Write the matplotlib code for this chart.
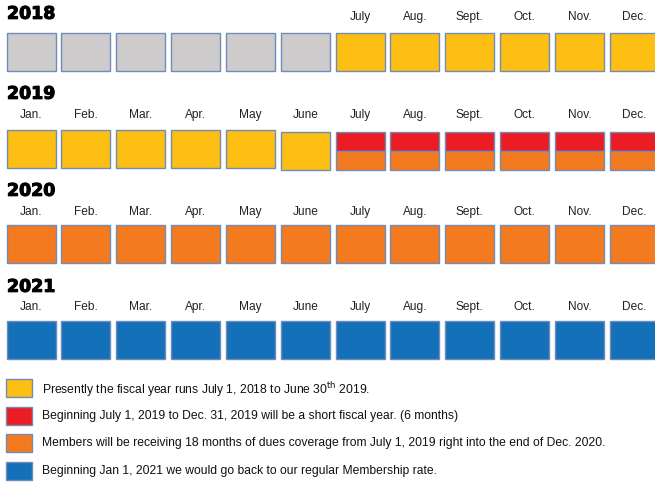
import matplotlib
matplotlib.use("Agg")
import matplotlib.pyplot as plt
import matplotlib.patheffects as pe

# ---- data ----
years = ["2018", "2019", "2020", "2021"]
months = ["Jan.", "Feb.", "Mar.", "Apr.", "May", "June",
          "July", "Aug.", "Sept.", "Oct.", "Nov.", "Dec."]
# which month labels are shown per year
labels_shown = [
    [False] * 6 + [True] * 6,
    [True] * 12,
    [True] * 12,
    [True] * 12,
]
# cell categories (top part, bottom part); None bottom = single colour
cells_top = [
    ["gray"] * 6 + ["yellow"] * 6,
    ["yellow"] * 6 + ["red"] * 6,
    ["orange"] * 12,
    ["blue"] * 12,
]
cells_bottom = [
    [None] * 12,
    [None] * 6 + ["orange"] * 6,
    [None] * 12,
    [None] * 12,
]
legend_cats = ["yellow", "red", "orange", "blue"]
legend_texts = [
    r"Presently the fiscal year runs July 1, 2018 to June 30$^{\mathrm{th}}$ 2019.",
    "Beginning July 1, 2019 to Dec. 31, 2019 will be a short fiscal year. (6 months)",
    "Members will be receiving 18 months of dues coverage from July 1, 2019 right into the end of Dec. 2020.",
    "Beginning Jan 1, 2021 we would go back to our regular Membership rate.",
]

# ---- style ----
colors = {"gray": "#CDCBCC", "yellow": "#FDBF13", "red": "#EC1C24",
          "orange": "#F47A20", "blue": "#1370B9"}
edge = "#6F8DB8"

W, H = 655, 483
fig = plt.figure(figsize=(W / 100, H / 100), dpi=100)
ax = fig.add_axes([0, 0, 1, 1])
ax.set_xlim(0, W)
ax.set_ylim(H, 0)
ax.axis("off")

year_y = [13.8, 93.8, 190.8, 286.8]
month_base = [20.2, 118.2, 215.2, 310.2]
box_top = [33, 130, 225, 321]
box_h = 38
x0, step, bw = 6.5, 54.85, 49
font = ["Liberation Sans", "DejaVu Sans"]

for r, yr in enumerate(years):
    ax.text(7, year_y[r], yr, fontsize=12.5, fontweight="bold",
            family="DejaVu Sans", va="center", ha="left", color="black",
            path_effects=[pe.withStroke(linewidth=0.8, foreground="black")])
    for i, m in enumerate(months):
        xl = x0 + step * i
        if labels_shown[r][i]:
            ax.text(xl + bw / 2, month_base[r], m, fontsize=8.6, family=font,
                    ha="center", va="baseline", color="#222222")
        top = box_top[r]
        if r == 1 and i >= 5:
            top += 2
        if cells_bottom[r][i] is None:
            ax.bar(xl, box_h, bottom=top, width=bw, align="edge",
                   color=colors[cells_top[r][i]], edgecolor=edge, linewidth=1)
        else:
            half = box_h / 2
            ax.bar(xl, half, bottom=top, width=bw, align="edge",
                   color=colors[cells_top[r][i]], edgecolor=edge, linewidth=1)
            ax.bar(xl, half, bottom=top + half, width=bw, align="edge",
                   color=colors[cells_bottom[r][i]], edgecolor=edge, linewidth=1)

leg_top = [379, 407, 434, 462]
for k, (cat, txt) in enumerate(zip(legend_cats, legend_texts)):
    ax.bar(6, 18, bottom=leg_top[k], width=26, align="edge",
           color=colors[cat], edgecolor=edge, linewidth=1)
    ax.text(42, leg_top[k] + 7.8, txt, fontsize=8.7, family=font,
            ha="left", va="center_baseline", color="#111111")

fig.savefig("out.png", dpi=100)
